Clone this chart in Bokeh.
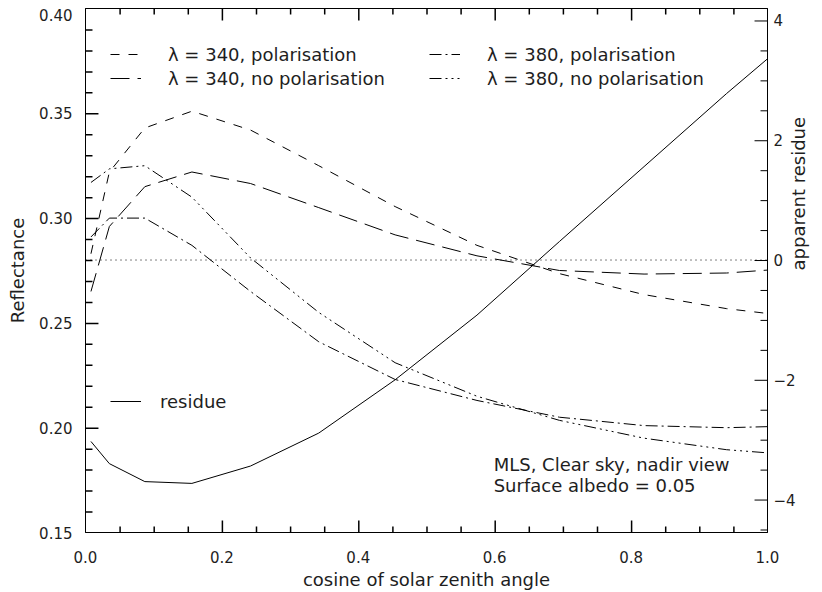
import math
from bokeh.plotting import figure
from bokeh.models import (Range1d, LinearAxis, FixedTicker, Span, Legend,
                          LegendItem, Label)
from bokeh.embed import file_html
from bokeh.resources import INLINE

# ---------------- data ----------------
cos_sza = [0.008, 0.035, 0.087, 0.156, 0.242, 0.342, 0.454, 0.574, 0.695, 0.819, 0.940, 1.0]
refl_340_pol = [0.283, 0.322, 0.343, 0.351, 0.342, 0.325, 0.3055, 0.287, 0.2735, 0.2635, 0.2568, 0.2545]
refl_340_nopol = [0.265, 0.296, 0.315, 0.322, 0.3165, 0.305, 0.292, 0.282, 0.275, 0.2733, 0.2738, 0.2752]
refl_380_pol = [0.291, 0.300, 0.300, 0.287, 0.265, 0.241, 0.223, 0.213, 0.205, 0.201, 0.200, 0.2005]
refl_380_nopol = [0.317, 0.3235, 0.325, 0.310, 0.281, 0.255, 0.231, 0.215, 0.2035, 0.195, 0.1895, 0.188]
residue = [-3.03, -3.40, -3.70, -3.73, -3.44, -2.89, -2.00, -0.92, 0.31, 1.56, 2.78, 3.36]

x_ticks = [0.0, 0.2, 0.4, 0.6, 0.8, 1.0]
x_tick_labels = ["0.0", "0.2", "0.4", "0.6", "0.8", "1.0"]
y_ticks = [0.15, 0.20, 0.25, 0.30, 0.35, 0.40]
y_tick_labels = ["0.15", "0.20", "0.25", "0.30", "0.35", "0.40"]
r_ticks = [-4, -2, 0, 2, 4]
r_tick_labels = ["\u22124", "\u22122", "0", "2", "4"]

X0, X1 = 0.0, 1.0
Y0, Y1 = 0.15, 0.40
R0, R1 = -4.55, 4.2
TOP_LABEL_NUDGE = 0.0033   # top-most y label sits a little inside the page

W, H = 822, 592
BL, BR, BT, BB = 85, 53, 8, 59
FRAME_W = W - BL - BR
FRAME_H = H - BT - BB

FONT = "DejaVu Sans"
TXT = "#1e1e1e"
FS_TICK = "15px"
FS = "18px"


def minor(lo, hi, step):
    n = int(round((hi - lo) / step))
    return [round(lo + i * step, 6) for i in range(n + 1)]


x_minor = [v for v in minor(0.0, 1.0, 0.05) if v not in x_ticks]
y_minor = [v for v in minor(0.15, 0.40, 0.01) if v not in y_ticks]
r_minor = [v for v in minor(-4.5, 4.0, 0.5) if v not in r_ticks]

p = figure(width=W, height=H, output_backend="svg", toolbar_location=None,
           x_range=Range1d(X0, X1), y_range=Range1d(Y0, Y1),
           x_axis_location=None, y_axis_location=None)
p.min_border_left = BL
p.min_border_right = BR
p.min_border_top = BT
p.min_border_bottom = BB
p.grid.visible = False
p.outline_line_color = "black"
p.background_fill_color = "white"
p.border_fill_color = "white"
p.extra_y_ranges = {"res": Range1d(R0, R1)}


def style_axis(ax):
    ax.axis_line_color = "black"
    ax.axis_line_width = 1
    ax.major_tick_in = 0
    ax.major_tick_out = 0
    ax.minor_tick_in = 0
    ax.minor_tick_out = 0
    ax.major_label_text_font = FONT
    ax.major_label_text_font_size = FS_TICK
    ax.major_label_text_color = TXT
    ax.axis_label_text_font = FONT
    ax.axis_label_text_font_size = FS
    ax.axis_label_text_font_style = "normal"
    ax.axis_label_text_color = TXT


bottom = LinearAxis(axis_label="cosine of solar zenith angle",
                    ticker=FixedTicker(ticks=x_ticks),
                    major_label_overrides={t: l for t, l in zip(x_ticks, x_tick_labels)})
style_axis(bottom)
bottom.major_label_standoff = 18
bottom.axis_label_standoff = 3
p.add_layout(bottom, "below")

top = LinearAxis(ticker=FixedTicker(ticks=x_ticks),
                 major_label_overrides={t: "" for t in x_ticks})
style_axis(top)
top.major_label_text_font_size = "0px"
top.major_label_standoff = 0
p.add_layout(top, "above")

left_tick_pos = y_ticks[:-1] + [y_ticks[-1] - TOP_LABEL_NUDGE]
left = LinearAxis(axis_label="Reflectance",
                  ticker=FixedTicker(ticks=left_tick_pos),
                  major_label_overrides={t: l for t, l in zip(left_tick_pos, y_tick_labels)})
style_axis(left)
left.major_label_standoff = 13
left.axis_label_standoff = 8
p.add_layout(left, "left")

right = LinearAxis(y_range_name="res", axis_label="apparent residue",
                   ticker=FixedTicker(ticks=r_ticks),
                   major_label_overrides={t: l for t, l in zip(r_ticks, r_tick_labels)})
style_axis(right)
right.major_label_standoff = 6
right.axis_label_standoff = 0
right.axis_label_orientation = math.pi / 2
p.add_layout(right, "right")

# inward tick marks as short segments (pixel lengths converted to data units)
px_x = (X1 - X0) / FRAME_W
px_y = (Y1 - Y0) / FRAME_H
px_r = (R1 - R0) / FRAME_H


def hticks(edge, ys, length_px, direction, per_px, width, yname=None):
    kw = dict(line_color="black", line_width=width)
    if yname:
        kw["y_range_name"] = yname
    ys2 = [y - 0.5 * per_px for y in ys]
    n = len(ys)
    p.segment(x0=[edge] * n, y0=ys2, x1=[edge + direction * length_px * px_x] * n, y1=ys2, **kw)


def vticks(xs, edge, length_px, direction, width):
    xs2 = [x + 0.5 * px_x for x in xs]
    n = len(xs)
    p.segment(x0=xs2, y0=[edge] * n, x1=xs2, y1=[edge + direction * length_px * px_y] * n,
              line_color="black", line_width=width)


hticks(X0, y_ticks[1:-1], 13, +1, px_y, 1.5)
hticks(X0, y_minor, 7, +1, px_y, 1.5)
hticks(X1, r_ticks, 13, -1, px_r, 1, "res")
hticks(X1, r_minor, 7, -1, px_r, 1, "res")
vticks(x_ticks[1:-1], Y0, 12, +1, 1.5)
vticks(x_minor, Y0, 6, +1, 1.5)
vticks(x_ticks[1:-1], Y1, 12, -1, 1.5)
vticks(x_minor, Y1, 6, -1, 1.5)

# zero-residue dotted line
p.add_layout(Span(location=0, dimension="width", y_range_name="res",
                  line_color="black", line_width=1, line_dash="1 4"))

LW = 1
rA = p.line(cos_sza, refl_340_pol, line_color="black", line_width=LW, line_dash="9 9")
rB = p.line(cos_sza, refl_340_nopol, line_color="black", line_width=LW, line_dash="19 8")
rC = p.line(cos_sza, refl_380_pol, line_color="black", line_width=LW, line_dash="12 4 2 4")
rD = p.line(cos_sza, refl_380_nopol, line_color="black", line_width=LW, line_dash="12 4 2 4 2 4 2 4")
rR = p.line(cos_sza, residue, y_range_name="res", line_color="black", line_width=LW)


def make_legend(items, loc, standoff):
    return Legend(items=items, location=loc, orientation="vertical",
                  border_line_alpha=0, background_fill_alpha=0,
                  padding=0, margin=0, spacing=0,
                  glyph_width=31, glyph_height=24, label_height=24,
                  label_standoff=standoff,
                  label_text_font=FONT, label_text_font_size=FS,
                  label_text_color=TXT)


p.add_layout(make_legend([LegendItem(label="\u03bb = 340, polarisation", renderers=[rA]),
                          LegendItem(label="\u03bb = 340, no polarisation", renderers=[rB])],
                         (25, 442), 27))
p.add_layout(make_legend([LegendItem(label="\u03bb = 380, polarisation", renderers=[rC]),
                          LegendItem(label="\u03bb = 380, no polarisation", renderers=[rD])],
                         (344, 442), 27))
p.add_layout(make_legend([LegendItem(label="residue", renderers=[rR])], (25, 119), 19))

for txt, yv in [("MLS, Clear sky, nadir view", 0.1824), ("Surface albedo = 0.05", 0.1724)]:
    p.add_layout(Label(x=0.5985, y=yv, text=txt, text_font=FONT, text_font_size=FS,
                       text_color=TXT, text_baseline="middle", text_align="left"))

open("out.html", "w").write(file_html(p, INLINE))
